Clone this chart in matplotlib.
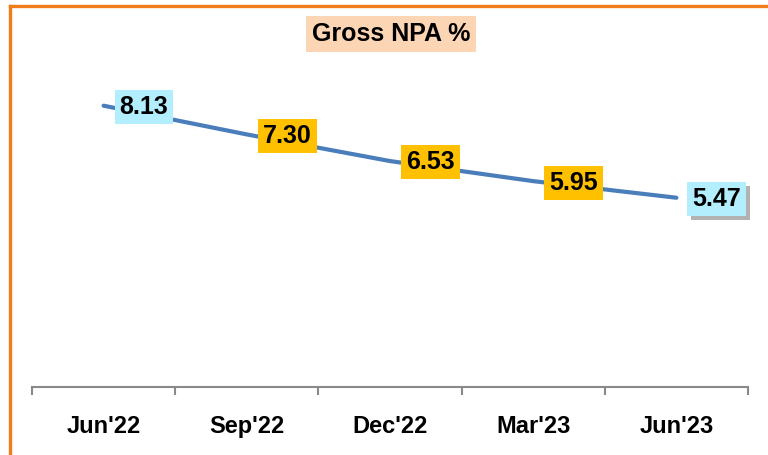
import matplotlib
matplotlib.use("Agg")
import matplotlib.pyplot as plt
from matplotlib.lines import Line2D
import matplotlib.patheffects as pe

plt.rcParams['font.family'] = ['Liberation Sans', 'DejaVu Sans']

categories = ["Jun'22", "Sep'22", "Dec'22", "Mar'23", "Jun'23"]
values = [8.13, 7.30, 6.53, 5.95, 5.47]
label_colors = ["#B3EEFF", "#FFC000", "#FFC000", "#FFC000", "#B3EEFF"]
title = "Gross NPA %"

W, H = 768, 455
fig = plt.figure(figsize=(W / 100, H / 100), dpi=100)
ax = fig.add_axes([32 / W, 1 - 387 / H, 716 / W, 346 / H])

x = list(range(len(categories)))
ax.plot(x, values, color="#4A7EBB", linewidth=3, solid_capstyle='round', zorder=2)

for i, (v, c) in enumerate(zip(values, label_colors)):
    t = ax.annotate(f"{v:.2f}", (i, v), xytext=(11.5, -1), textcoords='offset points',
                    ha='left', va='center', fontsize=18, fontweight='bold', color='black',
                    bbox=dict(boxstyle='square,pad=0.2', facecolor=c, edgecolor='none'),
                    zorder=3)
    if i == len(values) - 1:
        t.get_bbox_patch().set_path_effects([pe.SimplePatchShadow(offset=(2.5, -2.5), shadow_rgbFace='#808080', alpha=0.6), pe.Normal()])

ax.set_xlim(-0.5, 4.5)
ax.set_ylim(0, 10)
ax.set_xticks(x)
ax.set_xticklabels(categories, fontsize=17, fontweight='bold')
ax.set_xticks([i - 0.5 for i in range(len(categories) + 1)], minor=True)
ax.tick_params(axis='x', which='major', length=0, pad=20)
ax.tick_params(axis='x', which='minor', length=6, width=1.5, color='#898989')
ax.set_yticks([])
for s in ['top', 'right', 'left']:
    ax.spines[s].set_visible(False)
ax.spines['bottom'].set_color('#898989')
ax.spines['bottom'].set_linewidth(1.5)

fig.text(391 / W, 1 - 34 / H, title, ha='center', va='center', fontsize=18, fontweight='bold',
         bbox=dict(boxstyle='square,pad=0.25', facecolor='#FCD5B5', edgecolor='none'))

# orange frame
fig.add_artist(Line2D([9.5 / W, 1.0], [1 - 5.5 / H, 1 - 5.5 / H], color='#F07C1A', linewidth=2.4, transform=fig.transFigure))
fig.add_artist(Line2D([9.5 / W, 9.5 / W], [0, 1 - 5.5 / H], color='#F07C1A', linewidth=2.4, transform=fig.transFigure))

fig.savefig("out.png", dpi=100)
